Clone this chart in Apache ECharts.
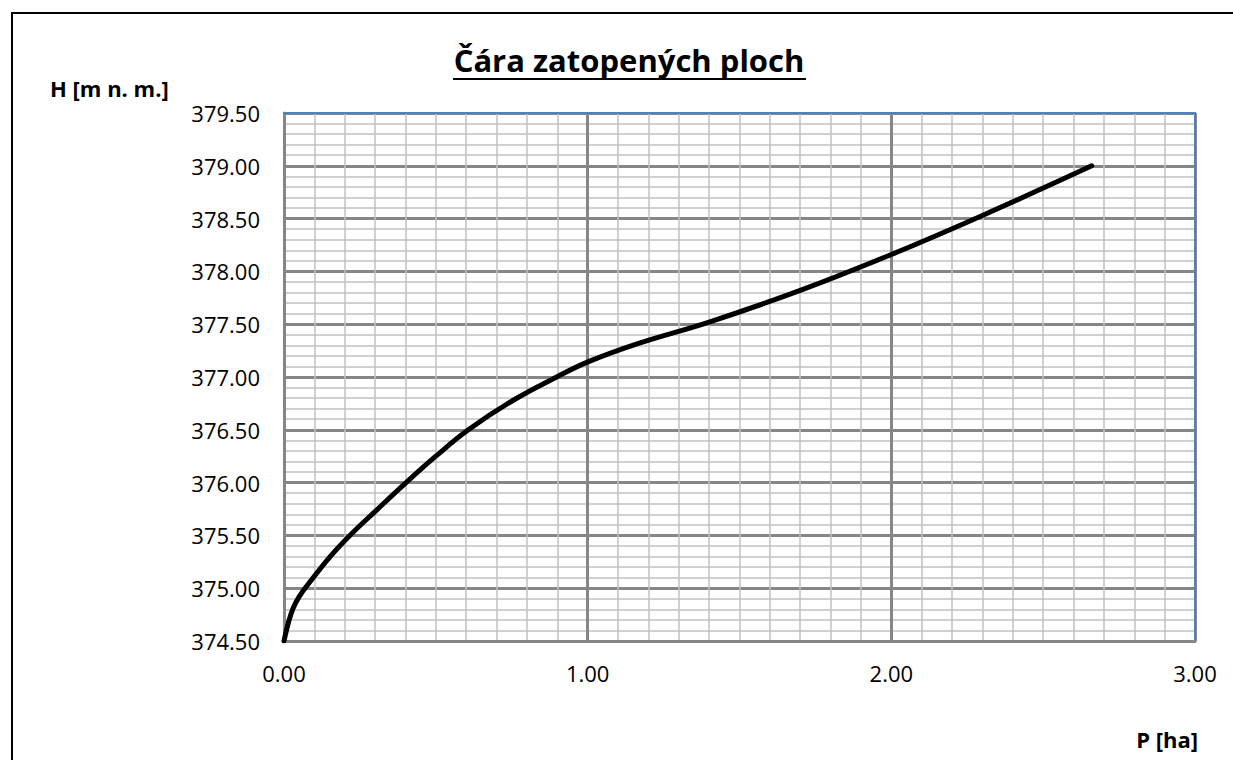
<!DOCTYPE html>
<html>
<head>
<meta charset="utf-8">
<script src="https://cdn.jsdelivr.net/npm/echarts@6/dist/echarts.min.js"></script>
<style>
html,body{margin:0;padding:0;background:#fff;}
#chart{width:1233px;height:760px;}
</style>
</head>
<body>
<div id="chart"></div>
<script>
// Data
const titleText = 'Čára zatopených ploch';
const yAxisTitle = 'H [m n. m.]';
const xAxisTitle = 'P [ha]';
const areaP = [0.00, 0.015, 0.03, 0.05, 0.08, 0.152, 0.217, 0.305, 0.402, 0.50, 0.607, 0.755, 0.898, 1.003, 1.17, 1.40, 1.70, 2.00, 2.30, 2.66];
const levelH = [374.50, 374.68, 374.81, 374.92, 375.04, 375.30, 375.50, 375.74, 376.00, 376.25, 376.50, 376.78, 377.00, 377.145, 377.32, 377.52, 377.82, 378.16, 378.53, 379.00];
const xRange = [0, 3];
const yRange = [374.5, 379.5];

const points = areaP.map((p, i) => [p, levelH[i]]);
const FONT = '"Open Sans", "Noto Sans", sans-serif';

const chart = echarts.init(document.getElementById('chart'), null, {renderer: 'svg'});
chart.setOption({
  backgroundColor: '#ffffff',
  animation: false,
  grid: {
    left: 284, top: 113, right: 38, bottom: 119,
    show: false
  },
  xAxis: [{
    type: 'value', min: xRange[0], max: xRange[1], interval: 1,
    axisLine: {show: true, onZero: false, lineStyle: {color: '#868686', width: 3}},
    axisTick: {show: false},
    minorTick: {show: false, splitNumber: 10},
    minorSplitLine: {show: true, lineStyle: {color: '#C0C0C0', width: 1.5}},
    splitLine: {show: true, lineStyle: {color: '#868686', width: 3}},
    axisLabel: {margin: 21, color: '#000', fontSize: 22, fontFamily: FONT,
      formatter: v => v.toFixed(2)}
  }, {
    type: 'value', position: 'top', min: xRange[0], max: xRange[1], interval: 1,
    axisLine: {show: true, onZero: false, lineStyle: {color: '#4F81BD', width: 2}},
    axisTick: {show: false}, axisLabel: {show: false}, splitLine: {show: false}
  }],
  yAxis: [{
    type: 'value', min: yRange[0], max: yRange[1], interval: 0.5,
    axisLine: {show: true, onZero: false, lineStyle: {color: '#868686', width: 3}},
    axisTick: {show: false},
    minorTick: {show: false, splitNumber: 5},
    minorSplitLine: {show: true, lineStyle: {color: '#C0C0C0', width: 1.5}},
    splitLine: {show: true, lineStyle: {color: '#868686', width: 3}},
    axisLabel: {margin: 24, color: '#000', fontSize: 22, fontFamily: FONT,
      formatter: v => v.toFixed(2)}
  }, {
    type: 'value', position: 'right', min: yRange[0], max: yRange[1], interval: 0.5,
    axisLine: {show: true, onZero: false, lineStyle: {color: '#4F81BD', width: 2}},
    axisTick: {show: false}, axisLabel: {show: false}, splitLine: {show: false}
  }],
  series: [{
    type: 'line',
    data: points,
    smooth: 0.4,
    showSymbol: false,
    lineStyle: {color: '#000', width: 5, cap: 'round', join: 'round'},
    z: 5
  }],
  graphic: [
    {type: 'rect', shape: {x: 12, y: 13, width: 1260, height: 800},
     style: {fill: 'none', stroke: '#000', lineWidth: 2}, silent: true, z: 100},
    {type: 'text', x: 629, y: 60,
     style: {text: titleText, fill: '#000', font: 'bold 31px ' + FONT,
       textAlign: 'center', textVerticalAlign: 'middle'}},
    {type: 'line', shape: {x1: 453, y1: 79, x2: 806, y2: 79},
     style: {stroke: '#000', lineWidth: 2}},
    {type: 'text', x: 50, y: 88,
     style: {text: yAxisTitle, fill: '#000', font: 'bold 22px ' + FONT,
       textAlign: 'left', textVerticalAlign: 'middle'}},
    {type: 'text', x: 1198, y: 739,
     style: {text: xAxisTitle, fill: '#000', font: 'bold 22px ' + FONT,
       textAlign: 'right', textVerticalAlign: 'middle'}}
  ]
});
</script>
</body>
</html>
